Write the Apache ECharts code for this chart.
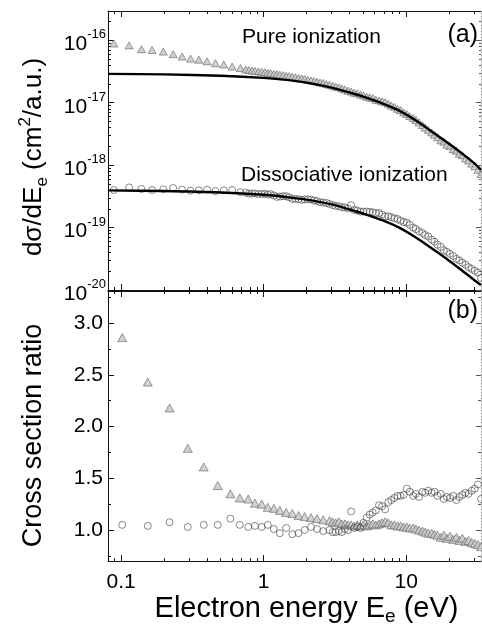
<!DOCTYPE html>
<html>
<head>
<meta charset="utf-8">
<title>Electron energy spectra</title>
<script src="https://cdn.jsdelivr.net/npm/echarts@6.0.0/dist/echarts.min.js"></script>
<style>
  html, body { margin: 0; padding: 0; background: #fff; }
  #container { width: 482px; height: 627px; }
</style>
</head>
<body>
<div id="container"></div>
<script>
  // top panel (a): measured d(sigma)/dE, pure and dissociative ionization
  const topEnergy = [
    0.089, 0.114, 0.139, 0.165, 0.198, 0.232, 0.268, 0.307, 0.351, 0.401, 0.459, 0.525, 0.601, 0.687,
    0.75, 0.79, 0.83, 0.87, 0.92, 0.97, 1.02, 1.07, 1.12, 1.18, 1.24, 1.30, 1.37, 1.44, 1.51, 1.59, 1.67, 1.76, 1.85, 1.94,
    2.04, 2.15, 2.26, 2.37, 2.49, 2.62, 2.76, 2.90, 3.05, 3.20, 3.37, 3.54, 3.72, 3.91,
    4.11, 4.32, 4.54, 4.78, 5.02, 5.28, 5.55, 5.83, 6.13, 6.45, 6.78, 7.12, 7.49, 7.87, 8.27, 8.70, 9.14, 9.61,
    10.1, 10.6, 11.2, 11.7, 12.3, 13.0, 13.6, 14.3, 15.1, 15.8, 16.6, 17.5, 18.4, 19.3,
    20.3, 21.4, 22.5, 23.6, 24.8, 26.1, 27.4, 28.8, 30.3, 31.9, 33.5
  ]
  const pureData = [
    8.9e-17, 8.3e-17, 7.2e-17, 7.0e-17, 6.6e-17, 6.0e-17, 5.5e-17, 5.1e-17, 4.9e-17, 4.6e-17, 4.3e-17, 4.1e-17, 3.8e-17, 3.6e-17,
    3.4e-17, 3.35e-17, 3.28e-17, 3.24e-17, 3.19e-17, 3.14e-17, 3.09e-17, 3.01e-17, 2.99e-17, 2.9e-17, 2.88e-17, 2.83e-17, 2.77e-17, 2.71e-17, 2.67e-17, 2.62e-17, 2.56e-17, 2.5e-17, 2.46e-17, 2.4e-17,
    2.33e-17, 2.28e-17, 2.22e-17, 2.18e-17, 2.11e-17, 2.07e-17, 2.0e-17, 1.94e-17, 1.88e-17, 1.81e-17, 1.77e-17, 1.69e-17, 1.63e-17, 1.56e-17,
    1.51e-17, 1.45e-17, 1.42e-17, 1.35e-17, 1.31e-17, 1.25e-17, 1.22e-17, 1.19e-17, 1.12e-17, 1.09e-17, 1.06e-17, 1.02e-17, 9.6e-18, 9.0e-18, 8.6e-18, 8.0e-18, 7.6e-18, 7.0e-18,
    6.6e-18, 6.1e-18, 5.7e-18, 5.3e-18, 4.85e-18, 4.4e-18, 4.0e-18, 3.7e-18, 3.35e-18, 3.07e-18, 2.8e-18, 2.5e-18, 2.38e-18, 2.12e-18,
    2.02e-18, 1.8e-18, 1.7e-18, 1.53e-18, 1.44e-18, 1.28e-18, 1.19e-18, 1.06e-18, 9.6e-19, 8.4e-19, 7.2e-19
  ]
  const dissData = [
    4.0e-19, 4.4e-19, 4.15e-19, 4.0e-19, 4.1e-19, 4.3e-19, 4.05e-19, 3.9e-19, 3.95e-19, 4.05e-19, 3.85e-19, 3.95e-19, 4.0e-19, 3.7e-19,
    3.62e-19, 3.5e-19, 3.51e-19, 3.53e-19, 3.44e-19, 3.46e-19, 3.47e-19, 3.37e-19, 3.43e-19, 3.27e-19, 3.1e-19, 3.14e-19, 3.19e-19, 3.18e-19, 3.05e-19, 2.88e-19, 2.87e-19, 2.86e-19, 2.78e-19, 2.83e-19,
    2.84e-19, 2.81e-19, 2.71e-19, 2.66e-19, 2.55e-19, 2.52e-19, 2.48e-19, 2.39e-19, 2.29e-19, 2.23e-19, 2.2e-19, 2.11e-19, 2.11e-19, 2.02e-19,
    2.29e-19, 1.92e-19, 1.88e-19, 1.8e-19, 1.8e-19, 1.81e-19, 1.79e-19, 1.76e-19, 1.71e-19, 1.71e-19, 1.62e-19, 1.51e-19, 1.52e-19, 1.47e-19, 1.41e-19, 1.37e-19, 1.29e-19, 1.23e-19,
    1.2e-19, 1.11e-19, 1.0e-19, 9.45e-20, 8.7e-20, 8.2e-20, 7.6e-20, 7.2e-20, 6.4e-20, 5.96e-20, 5.3e-20, 4.9e-20, 4.35e-20, 4.1e-20,
    3.8e-20, 3.5e-20, 3.16e-20, 2.97e-20, 2.75e-20, 2.54e-20, 2.32e-20, 2.18e-20, 2.03e-20, 1.9e-20, 1.56e-20
  ]

  // theory curves (solid lines)
  const theoryEnergy = [0.081, 0.2, 0.5, 1, 1.5, 2, 3, 4, 5, 7, 9, 12, 15, 20, 25, 30, 33.5]
  const pureTheory = [2.9e-17, 2.85e-17, 2.7e-17, 2.5e-17, 2.3e-17, 2.1e-17, 1.75e-17, 1.46e-17, 1.25e-17, 9.5e-18, 7.4e-18, 5.0e-18, 3.5e-18, 2.2e-18, 1.5e-18, 1.08e-18, 8.4e-19]
  const dissTheory = [3.95e-19, 3.85e-19, 3.65e-19, 3.35e-19, 3.05e-19, 2.8e-19, 2.35e-19, 1.95e-19, 1.68e-19, 1.28e-19, 9.9e-20, 6.7e-20, 4.7e-20, 2.95e-20, 2.0e-20, 1.45e-20, 1.2e-20]

  // bottom panel (b): experiment / theory
  const ratioEnergy = [
    0.102, 0.154, 0.219, 0.294, 0.380, 0.477, 0.585, 0.68,
    0.78, 0.87, 0.97, 1.07, 1.18, 1.30, 1.44, 1.59, 1.76, 1.94, 2.15, 2.37, 2.62, 2.90,
    3.05, 3.20, 3.37, 3.54, 3.72, 3.91,
    4.11, 4.32, 4.54, 4.78, 5.02, 5.28, 5.55, 5.83, 6.13, 6.45, 6.78, 7.12, 7.49, 7.87, 8.27, 8.70, 9.14, 9.61,
    10.1, 10.6, 11.2, 11.7, 12.3, 13.0, 13.6, 14.3, 15.1, 15.8, 16.6, 17.5, 18.4, 19.3,
    20.3, 21.4, 22.5, 23.6, 24.8, 26.1, 27.4, 28.8, 30.3, 31.9, 33.5
  ]
  const pureRatio = [
    2.86, 2.43, 2.18, 1.79, 1.61, 1.43, 1.35, 1.31,
    1.30, 1.26, 1.25, 1.22, 1.21, 1.19, 1.17, 1.16, 1.14, 1.13, 1.12, 1.11, 1.10, 1.09,
    1.08, 1.07, 1.08, 1.06, 1.06, 1.05,
    1.05, 1.04, 1.05, 1.04, 1.05, 1.04, 1.05, 1.06, 1.05, 1.06, 1.07, 1.08, 1.07, 1.05, 1.05, 1.04, 1.04, 1.03,
    1.03, 1.02, 1.02, 1.01, 1.00, 0.99, 0.98, 0.97, 0.97, 0.96, 0.95, 0.93, 0.95, 0.92,
    0.94, 0.91, 0.93, 0.90, 0.92, 0.89, 0.90, 0.88, 0.87, 0.86, 0.84
  ]
  const dissRatio = [
    1.05, 1.04, 1.075, 1.03, 1.05, 1.05, 1.11, 1.05,
    1.03, 1.04, 1.03, 1.05, 1.01, 0.97, 1.02, 0.96, 0.97, 1.00, 1.03, 1.01, 0.99, 1.00,
    0.98, 0.98, 0.99, 0.98, 1.01, 1.00,
    1.18, 1.02, 1.03, 1.02, 1.07, 1.12, 1.15, 1.17, 1.19, 1.24, 1.23, 1.20, 1.27, 1.29, 1.31, 1.33, 1.33, 1.34,
    1.40, 1.37, 1.33, 1.35, 1.32, 1.37, 1.36, 1.38, 1.36, 1.37, 1.33, 1.35, 1.30, 1.32,
    1.31, 1.33, 1.29, 1.32, 1.34, 1.36, 1.35, 1.38, 1.40, 1.44, 1.30
  ]

  // ticks
  const xMajor = [0.1, 1, 10]
  const xMinor = [0.09, 0.2, 0.3, 0.4, 0.5, 0.6, 0.7, 0.8, 0.9, 2, 3, 4, 5, 6, 7, 8, 9, 20, 30]
  const yTopMajor = [1e-20, 1e-19, 1e-18, 1e-17, 1e-16]
  const yTopMinor = [
    2e-20, 3e-20, 4e-20, 5e-20, 6e-20, 7e-20, 8e-20, 9e-20,
    2e-19, 3e-19, 4e-19, 5e-19, 6e-19, 7e-19, 8e-19, 9e-19,
    2e-18, 3e-18, 4e-18, 5e-18, 6e-18, 7e-18, 8e-18, 9e-18,
    2e-17, 3e-17, 4e-17, 5e-17, 6e-17, 7e-17, 8e-17, 9e-17, 2e-16
  ]
  const yBotMajor = [1.0, 1.5, 2.0, 2.5, 3.0]
  const yBotMinor = [0.75, 1.25, 1.75, 2.25, 2.75, 3.25]

  const FONT = 'Liberation Sans'
  const X_MIN = 0.081
  const X_MAX = 33.5

  function zip(xs, ys) {
    return xs.map((x, i) => [x, ys[i]])
  }

  // one axis: line, inward ticks, no split lines
  function axis(type, grid, pos, ticks, len, opts) {
    const dotted = pos === 'right'
    return Object.assign({
      type: type,
      gridIndex: grid,
      position: pos,
      axisLine: {
        show: true,
        onZero: false,
        lineStyle: dotted ? { color: '#9a9a9a', width: 1, type: [1, 2] } : { color: '#111', width: 1 }
      },
      axisTick: {
        show: true,
        inside: true,
        length: len,
        customValues: ticks,
        lineStyle: { color: dotted ? '#555' : '#111', width: 1 }
      },
      axisLabel: { show: false },
      splitLine: { show: false },
      axisPointer: { show: false }
    }, opts || {})
  }

  function logX(grid, pos, ticks, len, opts) {
    return axis('log', grid, pos, ticks, len, Object.assign({ min: X_MIN, max: X_MAX, logBase: 10 }, opts || {}))
  }
  function logY(pos, ticks, len, opts) {
    return axis('log', 0, pos, ticks, len, Object.assign({ min: 1e-20, max: 2.95e-16, logBase: 10 }, opts || {}))
  }
  function valY(pos, ticks, len, opts) {
    return axis('value', 1, pos, ticks, len, Object.assign({ min: 0.7, max: 3.31 }, opts || {}))
  }

  const dom = document.getElementById('container')
  const myChart = echarts.init(dom, null, { renderer: 'canvas' })

  myChart.setOption({
    animation: false,
    backgroundColor: '#fff',
    textStyle: { fontFamily: FONT },
    grid: [
      { left: 108, top: 11, width: 373, height: 279 },
      { left: 108, top: 291, width: 373, height: 281 }
    ],
    xAxis: [
      logX(0, 'bottom', xMajor, 6),
      logX(0, 'bottom', xMinor, 3, { axisLine: { show: false } }),
      logX(0, 'top', xMajor, 6),
      logX(0, 'top', xMinor, 3, { axisLine: { show: false } }),
      logX(1, 'bottom', xMajor, 6, {
        axisLabel: {
          show: true,
          customValues: xMajor,
          margin: 11,
          color: '#000',
          fontFamily: FONT,
          fontSize: 21,
          formatter: function(v) { return String(+v.toPrecision(3)) }
        },
        name: '{a|Electron energy E}{b|e}{a| (eV)}',
        nameLocation: 'middle',
        nameGap: 16,
        nameTextStyle: {
          color: '#000',
          fontFamily: FONT,
          padding: [0, 0, 0, 24],
          rich: {
            a: { fontFamily: FONT, fontSize: 29, lineHeight: 35, color: '#000' },
            b: { fontFamily: FONT, fontSize: 19, lineHeight: 19, verticalAlign: 'bottom', color: '#000' }
          }
        }
      }),
      logX(1, 'bottom', xMinor, 3, { axisLine: { show: false } }),
      logX(1, 'top', xMajor, 6),
      logX(1, 'top', xMinor, 3, { axisLine: { show: false } })
    ],
    yAxis: [
      logY('left', yTopMajor, 6, {
        axisLabel: {
          show: true,
          customValues: yTopMajor,
          margin: 2,
          padding: [8, 0, 0, 0],
          formatter: function(v) {
            return '{b|10}{s|' + Math.round(Math.log10(v)) + '}'
          },
          rich: {
            b: { fontFamily: FONT, fontSize: 21, lineHeight: 32, color: '#000' },
            s: { fontFamily: FONT, fontSize: 13, lineHeight: 13, verticalAlign: 'top', color: '#000' }
          }
        },
        name: '{a|d\u03c3/dE}{b|e}{a| (cm}{c|2}{a|/a.u.)}',
        nameLocation: 'middle',
        nameGap: 57,
        nameTextStyle: {
          color: '#000',
          fontFamily: FONT,
          padding: [0, 13, 0, 0],
          rich: {
            a: { fontFamily: FONT, fontSize: 26, lineHeight: 34, color: '#000' },
            b: { fontFamily: FONT, fontSize: 17, lineHeight: 17, verticalAlign: 'bottom', color: '#000' },
            c: { fontFamily: FONT, fontSize: 17, lineHeight: 17, verticalAlign: 'top', color: '#000' }
          }
        }
      }),
      logY('left', yTopMinor, 3, { axisLine: { show: false } }),
      logY('right', yTopMajor, 5),
      logY('right', yTopMinor, 2, { axisLine: { show: false } }),
      valY('left', yBotMajor, 6, {
        axisLabel: {
          show: true,
          customValues: yBotMajor,
          margin: 5,
          color: '#000',
          fontFamily: FONT,
          fontSize: 21,
          formatter: function(v) { return v.toFixed(1) }
        },
        name: 'Cross section ratio',
        nameLocation: 'middle',
        nameGap: 57,
        nameTextStyle: {
          color: '#000',
          fontFamily: FONT,
          fontSize: 27,
          lineHeight: 35,
          padding: [0, 19, 0, 0]
        }
      }),
      valY('left', yBotMinor, 3, { axisLine: { show: false } }),
      valY('right', yBotMajor, 5),
      valY('right', yBotMinor, 3, { axisLine: { show: false } })
    ],
    graphic: [
      { type: 'text', x: 478, y: 35, silent: true,
        style: { text: '(a)', fill: '#000', fontFamily: FONT, fontSize: 25, textAlign: 'right', align: 'right', textVerticalAlign: 'middle', verticalAlign: 'middle' } },
      { type: 'text', x: 478, y: 311, silent: true,
        style: { text: '(b)', fill: '#000', fontFamily: FONT, fontSize: 25, textAlign: 'right', align: 'right', textVerticalAlign: 'middle', verticalAlign: 'middle' } },
      { type: 'text', x: 242, y: 37, silent: true,
        style: { text: 'Pure ionization', fill: '#000', fontFamily: FONT, fontSize: 21, textAlign: 'left', align: 'left', textVerticalAlign: 'middle', verticalAlign: 'middle' } },
      { type: 'text', x: 241, y: 175, silent: true,
        style: { text: 'Dissociative ionization', fill: '#000', fontFamily: FONT, fontSize: 21, textAlign: 'left', align: 'left', textVerticalAlign: 'middle', verticalAlign: 'middle' } }
    ],
    series: [
      {
        name: 'Pure ionization',
        type: 'scatter',
        xAxisIndex: 0,
        yAxisIndex: 0,
        symbol: 'triangle',
        symbolSize: [8, 7],
        itemStyle: { color: '#c6c6c6', borderColor: '#555', borderWidth: 0.7 },
        silent: true,
        data: zip(topEnergy, pureData)
      },
      {
        name: 'Dissociative ionization',
        type: 'scatter',
        xAxisIndex: 0,
        yAxisIndex: 0,
        symbol: 'circle',
        symbolSize: 7,
        itemStyle: { color: 'rgba(255,255,255,0)', borderColor: '#444', borderWidth: 0.8 },
        silent: true,
        data: zip(topEnergy, dissData)
      },
      {
        name: 'Pure ionization theory',
        type: 'line',
        xAxisIndex: 0,
        yAxisIndex: 0,
        smooth: 0.3,
        symbol: 'none',
        lineStyle: { color: '#000', width: 2.4 },
        z: 3,
        silent: true,
        data: zip(theoryEnergy, pureTheory)
      },
      {
        name: 'Dissociative ionization theory',
        type: 'line',
        xAxisIndex: 0,
        yAxisIndex: 0,
        smooth: 0.3,
        symbol: 'none',
        lineStyle: { color: '#000', width: 2.4 },
        z: 3,
        silent: true,
        data: zip(theoryEnergy, dissTheory)
      },
      {
        name: 'Pure ionization ratio',
        type: 'scatter',
        xAxisIndex: 4,
        yAxisIndex: 4,
        symbol: 'triangle',
        symbolSize: [9, 8],
        itemStyle: { color: '#c6c6c6', borderColor: '#555', borderWidth: 0.7 },
        silent: true,
        data: zip(ratioEnergy, pureRatio)
      },
      {
        name: 'Dissociative ionization ratio',
        type: 'scatter',
        xAxisIndex: 4,
        yAxisIndex: 4,
        symbol: 'circle',
        symbolSize: 7,
        itemStyle: { color: 'rgba(255,255,255,0)', borderColor: '#444', borderWidth: 0.8 },
        silent: true,
        data: zip(ratioEnergy, dissRatio)
      }
    ]
  })
</script>
</body>
</html>
